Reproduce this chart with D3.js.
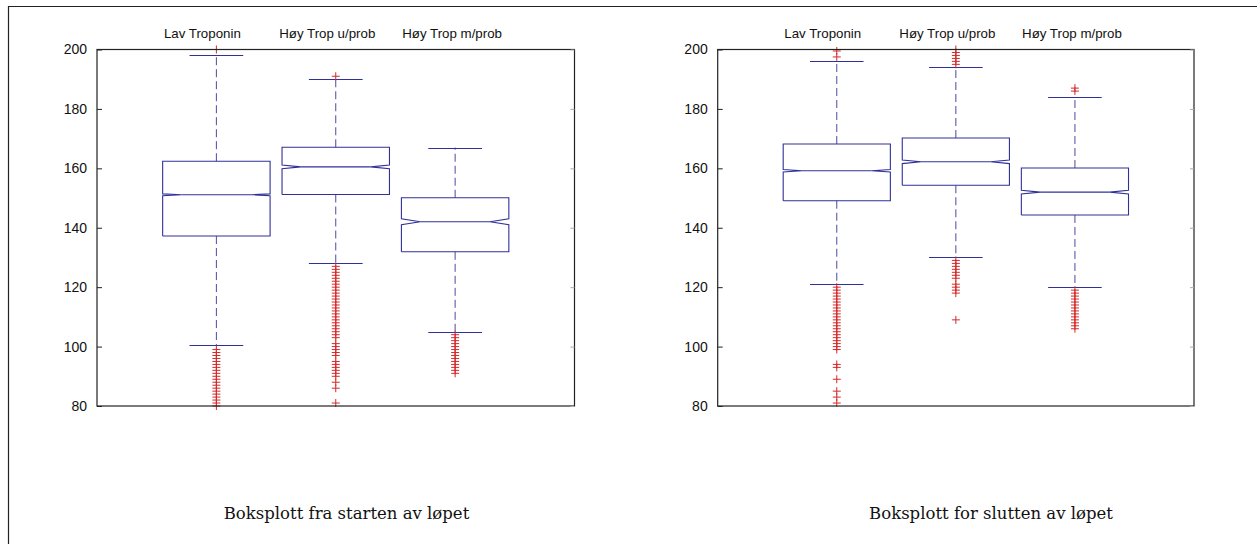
<!DOCTYPE html>
<html>
<head>
<meta charset="utf-8">
<script src="https://cdn.jsdelivr.net/npm/d3@7"></script>
<style>
  body { margin: 0; background: #fff; }
  svg { display: block; }
</style>
</head>
<body>
<svg id="chart" width="1257" height="544"></svg>
<script>
const categories = ["Lav Troponin", "Høy Trop u/prob", "Høy Trop m/prob"];
const yTicks = [80, 100, 120, 140, 160, 180, 200];
const captions = ["Boksplott fra starten av løpet", "Boksplott for slutten av løpet"];

// start of the run
const startQ1 = [137.2, 151.2, 131.9];
const startMedian = [151.1, 160.5, 142.0];
const startQ3 = [162.4, 167.1, 150.1];
const startLowWhisker = [100.5, 128.0, 105.0];
const startHighWhisker = [198.0, 190.0, 167.0];
const startNotch = [0.3, 0.6, 1.0];
const startOutliers = [
  [200, 99, 98, 97, 96, 95, 94, 93, 92, 91, 90, 89, 88, 87, 86, 85, 84, 83, 82, 81, 80],
  [191, 127, 126, 125, 124, 123, 122, 121, 120, 119, 118, 117, 116, 115, 114, 113, 112, 111, 110,
   109, 108, 107, 106, 105, 104, 103, 101, 100, 99, 98, 97, 95, 94, 93, 92, 91, 90, 88, 86, 81],
  [104, 103, 102, 101, 100, 99, 98, 97, 96, 95, 94, 93, 92, 91]
];

// end of the run
const endQ1 = [149.1, 154.3, 144.3];
const endMedian = [159.2, 162.2, 152.0];
const endQ3 = [168.2, 170.2, 160.1];
const endLowWhisker = [121.2, 130.2, 120.1];
const endHighWhisker = [196.2, 194.2, 184.1];
const endNotch = [0.4, 0.6, 0.6];
const endOutliers = [
  [197.5, 199.5, 120, 119, 118, 117, 116, 115, 114, 113, 112, 111, 110, 109, 108, 107, 106, 105,
   104, 103, 102, 101, 100, 99, 94, 93, 89, 85, 83, 81],
  [195, 196, 197, 198, 199, 200, 129, 128, 127, 126, 125, 124, 123, 121, 120, 119, 118, 109],
  [186, 187, 119, 118, 117, 116, 115, 114, 113, 112, 111, 110, 109, 108, 107, 106]
];

const boxColor = "#30309a";
const whiskerColor = "#4a4aa0";
const outlierColor = "#d42a2a";

const svg = d3.select("#chart");

// page frame (top and left edge)
svg.append("path")
  .attr("d", "M8.5,544V6.5H1257")
  .attr("fill", "none")
  .attr("stroke", "#222")
  .attr("stroke-width", 1.2);

function drawPanel(opts) {
  const { left, right, top, bottom, q1, med, q3, lo, hi, notch, outliers, caption, captionX } = opts;

  const x = d3.scaleLinear().domain([0, 4]).range([left, right]);
  const y = d3.scaleLinear().domain([80, 200]).range([bottom, top]);
  // category labels sit on a slightly wider spacing than the boxes
  const xLabel = d3.scaleLinear().domain([0, 4]).range([left - 19.5, right + 2.5]);

  const g = svg.append("g");
  const boxW = x(0.9) - x(0);
  const capW = boxW / 2;
  const inset = boxW / 2 * 0.35;

  const stats = categories.map((c, i) => ({
    name: c, pos: i + 1, q1: q1[i], med: med[i], q3: q3[i],
    lo: lo[i], hi: hi[i], notch: notch[i], out: outliers[i]
  }));

  const box = g.selectAll(".box").data(stats).join("g").attr("class", "box");

  // whiskers
  box.append("line")
    .attr("x1", d => x(d.pos)).attr("x2", d => x(d.pos))
    .attr("y1", d => y(d.q3)).attr("y2", d => y(d.hi))
    .attr("stroke", whiskerColor).attr("stroke-dasharray", "8,4");
  box.append("line")
    .attr("x1", d => x(d.pos)).attr("x2", d => x(d.pos))
    .attr("y1", d => y(d.q1)).attr("y2", d => y(d.lo))
    .attr("stroke", whiskerColor).attr("stroke-dasharray", "8,4");
  // caps
  box.selectAll(".cap").data(d => [d.lo, d.hi].map(v => ({ pos: d.pos, v })))
    .join("line").attr("class", "cap")
    .attr("x1", d => x(d.pos) - capW / 2).attr("x2", d => x(d.pos) + capW / 2)
    .attr("y1", d => Math.round(y(d.v)) + 0.5).attr("y2", d => Math.round(y(d.v)) + 0.5)
    .attr("stroke", boxColor);

  // notched box
  box.append("path")
    .attr("d", d => {
      const cx = x(d.pos), l = cx - boxW / 2, r = cx + boxW / 2;
      const nl = y(d.med - d.notch), nh = y(d.med + d.notch), m = y(d.med);
      return d3.line()([
        [l, y(d.q1)], [l, nl], [l + inset, m], [l, nh], [l, y(d.q3)],
        [r, y(d.q3)], [r, nh], [r - inset, m], [r, nl], [r, y(d.q1)], [l, y(d.q1)]
      ]);
    })
    .attr("fill", "none").attr("stroke", boxColor).attr("stroke-width", 1.1);
  // median
  box.append("line")
    .attr("x1", d => x(d.pos) - boxW / 2 + inset).attr("x2", d => x(d.pos) + boxW / 2 - inset)
    .attr("y1", d => y(d.med)).attr("y2", d => y(d.med))
    .attr("stroke", boxColor).attr("stroke-width", 1.1);

  // outliers
  box.selectAll(".out").data(d => d.out.map(v => ({ pos: d.pos, v })))
    .join("path").attr("class", "out")
    .attr("transform", d => `translate(${x(d.pos)},${y(d.v)})`)
    .attr("d", "M-4,0H4M0,-4V4")
    .attr("stroke", outlierColor).attr("stroke-width", 1);

  // frame
  g.append("rect")
    .attr("x", left).attr("y", top)
    .attr("width", right - left).attr("height", bottom - top)
    .attr("fill", "none").attr("stroke", "#222").attr("stroke-width", 1.2);

  // y axis, ticks pointing inward
  const yAxis = g.append("g")
    .attr("transform", `translate(${left},0)`)
    .call(d3.axisLeft(y).tickValues(yTicks).tickSize(-5).tickPadding(10).tickFormat(d3.format("d")));
  yAxis.select(".domain").remove();
  yAxis.selectAll("line").attr("stroke", "#222");
  yAxis.selectAll("text")
    .attr("font-family", "'Liberation Sans', Arial, sans-serif")
    .attr("font-size", 14).attr("fill", "#111");

  const yAxisR = g.append("g")
    .attr("transform", `translate(${right},0)`)
    .call(d3.axisRight(y).tickValues(yTicks).tickSize(-4).tickFormat(""));
  yAxisR.select(".domain").remove();
  yAxisR.selectAll("line").attr("stroke", "#aaa");

  // category labels on top
  g.selectAll(".cat").data(stats).join("text").attr("class", "cat")
    .attr("x", d => xLabel(d.pos)).attr("y", top - 11.5)
    .attr("text-anchor", "middle")
    .attr("font-family", "'Liberation Sans', Arial, sans-serif")
    .attr("font-size", 13.3).attr("fill", "#111")
    .text(d => d.name);

  // caption
  svg.append("text")
    .attr("x", captionX).attr("y", 519)
    .attr("text-anchor", "middle")
    .attr("font-family", "'DejaVu Serif', serif")
    .attr("font-size", 16.5).attr("fill", "#111")
    .text(caption);
}

drawPanel({
  left: 97, right: 574.5, top: 49.5, bottom: 406,
  q1: startQ1, med: startMedian, q3: startQ3, lo: startLowWhisker, hi: startHighWhisker,
  notch: startNotch, outliers: startOutliers, caption: captions[0], captionX: 346.5
});
drawPanel({
  left: 717.7, right: 1194, top: 49.5, bottom: 406,
  q1: endQ1, med: endMedian, q3: endQ3, lo: endLowWhisker, hi: endHighWhisker,
  notch: endNotch, outliers: endOutliers, caption: captions[1], captionX: 991
});
</script>
</body>
</html>
